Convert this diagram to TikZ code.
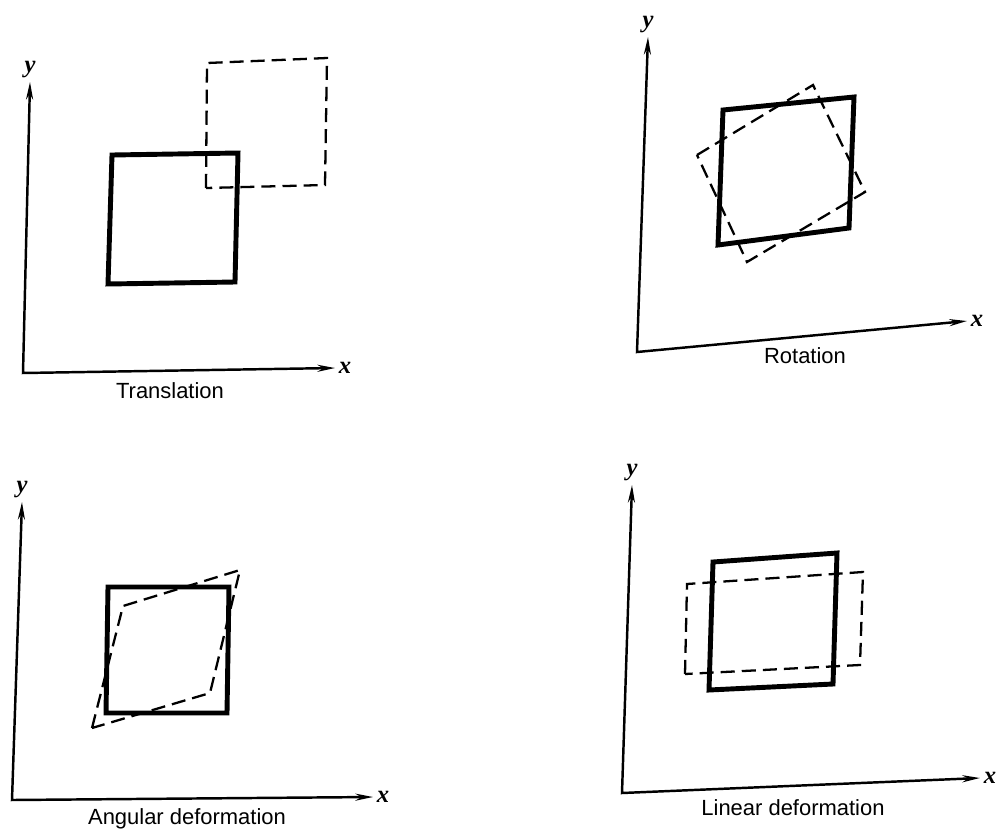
\documentclass[tikz,border=0pt]{standalone}
\usepackage{fontspec}
\setmainfont{Liberation Sans}
\newfontfamily\axfont{Liberation Serif}
\usetikzlibrary{arrows.meta}
\tikzset{
  every node/.style={font=\fontsize{12.5}{14}\selectfont},
  axisline/.style={arrows={Stealth[length=10pt,width=4pt]-Stealth[length=10pt,width=4pt]}, line width=1.4pt},
  elem/.style={line width=2.8pt, line join=miter},
  moved/.style={line width=1.3pt, dash pattern=on 8pt off 4pt, line join=miter},
  axlbl/.style={font=\axfont\bfseries\itshape\fontsize{14}{15}\selectfont, inner sep=2pt},
  captext/.style={anchor=north, inner sep=1pt},
}
\begin{document}
\begin{tikzpicture}[x=0.02cm, y=-0.02cm]
\useasboundingbox (0,0) rectangle (1000,832);
% translation
\coordinate (tr-o) at (23,373);
\coordinate (tr-y) at (30,82);
\coordinate (tr-x) at (335,368);
\draw[axisline] (tr-y) -- (tr-o) -- (tr-x);
\node[axlbl, anchor=south] (tr-ly) at (tr-y) {y};
\node[axlbl, anchor=west] (tr-lx) at (tr-x) {x};
\node[captext] (tr-c) at (170,380) {Translation};
\draw[elem] (108,284) -- (112,155) -- (238,153) -- (235,282) -- cycle;
\draw[moved] (206,188) -- (207,63) -- (327,58) -- (325,185) -- cycle;
% rotation
\coordinate (ro-o) at (637,352);
\coordinate (ro-y) at (648,37);
\coordinate (ro-x) at (967,321);
\draw[axisline] (ro-y) -- (ro-o) -- (ro-x);
\node[axlbl, anchor=south] (ro-ly) at (ro-y) {y};
\node[axlbl, anchor=west] (ro-lx) at (ro-x) {x};
\node[captext] (ro-c) at (805,345) {Rotation};
\draw[elem] (718,245) -- (723,110) -- (854,97) -- (849,228) -- cycle;
\draw[moved] (697,155) -- (813,85) -- (865,192) -- (747,262) -- cycle;
% angular deformation
\coordinate (an-o) at (12,800);
\coordinate (an-y) at (22,502);
\coordinate (an-x) at (373,797);
\draw[axisline] (an-y) -- (an-o) -- (an-x);
\node[axlbl, anchor=south] (an-ly) at (an-y) {y};
\node[axlbl, anchor=west] (an-lx) at (an-x) {x};
\node[captext] (an-c) at (187,806) {Angular deformation};
\draw[elem] (106,713) -- (108,587) -- (229,587) -- (227,713) -- cycle;
\draw[moved] (92,728) -- (123,606) -- (240,570) -- (210,693) -- cycle;
% linear deformation
\coordinate (li-o) at (622,793);
\coordinate (li-y) at (632,485);
\coordinate (li-x) at (980,778);
\draw[axisline] (li-y) -- (li-o) -- (li-x);
\node[axlbl, anchor=south] (li-ly) at (li-y) {y};
\node[axlbl, anchor=west] (li-lx) at (li-x) {x};
\node[captext] (li-c) at (793,797) {Linear deformation};
\draw[elem] (709,690) -- (713,562) -- (837,553) -- (833,684) -- cycle;
\draw[moved] (685,674) -- (687,584) -- (863,572) -- (860,665) -- cycle;
\end{tikzpicture}
\end{document}
